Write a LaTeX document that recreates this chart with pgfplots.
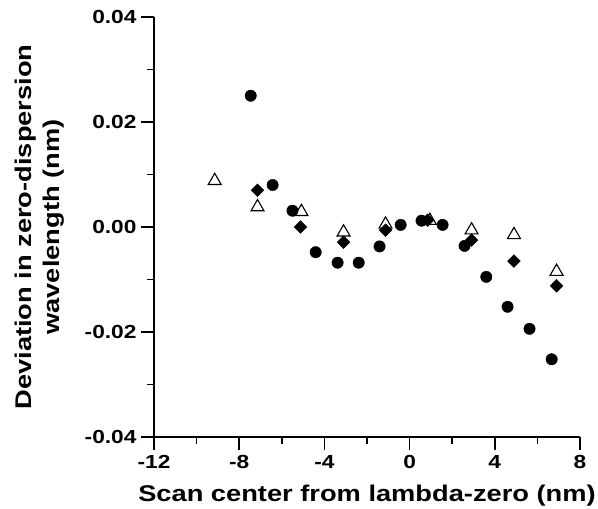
\documentclass[border=0pt]{standalone}
\usepackage{fontspec}
\setmainfont{Liberation Sans}[FakeStretch=1.2]
\usepackage{pgfplots}
\pgfplotsset{compat=1.18}
\begin{document}
\begin{tikzpicture}
\begin{axis}[
  scale only axis, width=426bp, height=420bp,
  xmin=-12, xmax=8, ymin=-0.04, ymax=0.04,
  scaled y ticks=false, scaled x ticks=false,
  axis x line*=bottom, axis y line*=left,
  axis line style={line width=1.8bp},
  tick align=outside,
  major tick length=13bp, minor tick length=7bp,
  every tick/.style={black, line width=1.6bp},
  xtick={-12,-8,-4,0,4,8}, xticklabels={-12,-8,-4,0,4,8},
  ytick={-0.04,-0.02,0,0.02,0.04}, yticklabels={-0.04,-0.02,0.00,0.02,0.04},
  minor x tick num=1, minor y tick num=1,
  ticklabel style={font=\bfseries\fontsize{19}{21}\selectfont},
  xticklabel style={yshift=-2bp},
  yticklabel style={xshift=-1bp},
  xlabel={Scan center from lambda-zero (nm)},
  ylabel={Deviation in zero-dispersion\\wavelength (nm)},
  xlabel style={font=\bfseries\fontsize{22.8}{26}\selectfont, at={(rel axis cs:0.5,0)}, anchor=base, yshift=-65bp},
  ylabel style={font=\bfseries\fontsize{22.8}{28}\selectfont, align=center, at={(rel axis cs:0,0.5)}, anchor=center, yshift=114bp},
  clip=false,
]
\addplot[only marks, mark=triangle, mark size=7.5bp, mark options={fill=white, draw=black, line width=1.1bp}] coordinates {
(-9.15,0.0088) (-7.14,0.0038) (-5.08,0.0029) (-3.10,-0.0010) (-1.13,0.0005)
(0.95,0.0012) (2.91,-0.0006) (4.90,-0.0015) (6.90,-0.0085)
};
\addplot[only marks, mark=square*, mark size=4.5bp, mark options={rotate=45, fill=black, draw=black}] coordinates {
(-7.14,0.0070) (-5.12,0.0000) (-3.10,-0.0029) (-1.13,-0.0006) (0.85,0.0013)
(2.91,-0.0025) (4.90,-0.0065) (6.90,-0.0112)
};
\addplot[only marks, mark=*, mark size=5.7bp, mark options={fill=black, draw=black}] coordinates {
(-7.46,0.0250) (-6.43,0.0080) (-5.50,0.0031) (-4.41,-0.0048) (-3.38,-0.0068)
(-2.39,-0.0068) (-1.41,-0.0037) (-0.42,0.0004) (0.56,0.0012) (1.55,0.0004)
(2.58,-0.0036) (3.60,-0.0095) (4.60,-0.0152) (5.63,-0.0194) (6.67,-0.0252)
};
\end{axis}
\pgfresetboundingbox
\path (current axis.south west) ++(-154bp,-72bp) rectangle ([shift={(18bp,17bp)}]current axis.north east);
\end{tikzpicture}
\end{document}
